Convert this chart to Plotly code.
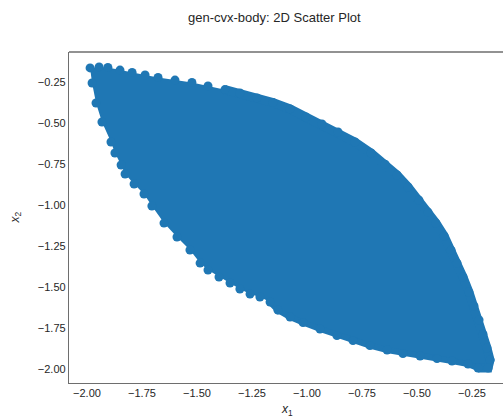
import plotly.graph_objects as go

# Boundary samples (marker centres) of the convex body
x1_edge = [-1.986, -1.945, -1.905, -1.850, -1.795, -1.736, -1.677, -1.600, -1.523, -1.450,
           -1.373, -1.305, -1.227, -1.155, -1.077, -1.005, -0.932, -0.859, -0.782, -0.709,
           -0.645, -0.591, -0.541, -0.491, -0.450, -0.414, -0.377, -0.345, -0.318, -0.291,
           -0.264, -0.241, -0.218, -0.200, -0.182, -0.168, -0.177, -0.223, -0.268, -0.341,
           -0.409, -0.486, -0.564, -0.636, -0.714, -0.791, -0.864, -0.941, -1.018, -1.077,
           -1.132, -1.168, -1.214, -1.259, -1.305, -1.350, -1.400, -1.450, -1.486, -1.532,
           -1.591, -1.650, -1.705, -1.741, -1.786, -1.827, -1.845, -1.873, -1.891, -1.932,
           -1.959, -1.977]
x2_edge = [-0.166, -0.160, -0.163, -0.179, -0.194, -0.209, -0.224, -0.240, -0.255, -0.276,
           -0.298, -0.319, -0.349, -0.377, -0.416, -0.465, -0.508, -0.557, -0.618, -0.685,
           -0.753, -0.819, -0.892, -0.972, -1.045, -1.112, -1.191, -1.277, -1.356, -1.441,
           -1.533, -1.618, -1.703, -1.789, -1.874, -1.947, -1.996, -1.996, -1.972, -1.953,
           -1.938, -1.923, -1.907, -1.886, -1.859, -1.828, -1.798, -1.758, -1.718, -1.685,
           -1.643, -1.594, -1.563, -1.545, -1.514, -1.478, -1.441, -1.398, -1.356, -1.276,
           -1.197, -1.112, -1.008, -0.935, -0.874, -0.813, -0.758, -0.685, -0.618, -0.496,
           -0.380, -0.258]

x_ticks = [-2.00, -1.75, -1.50, -1.25, -1.00, -0.75, -0.50, -0.25]
y_ticks = [-2.00, -1.75, -1.50, -1.25, -1.00, -0.75, -0.50, -0.25]

BLUE = "#1f77b4"
FONT = "Liberation Sans, Arial, sans-serif"

fig = go.Figure()
# interior
fig.add_trace(go.Scatter(
    x=x1_edge + [x1_edge[0]], y=x2_edge + [x2_edge[0]],
    mode="lines", fill="toself", fillcolor=BLUE,
    line=dict(width=0, color=BLUE), hoverinfo="skip", showlegend=False))
# densely sampled upper-right arc: smooth edge
fig.add_trace(go.Scatter(
    x=x1_edge[10:38], y=x2_edge[10:38], mode="lines",
    line=dict(width=9, color=BLUE), hoverinfo="skip", showlegend=False))
# bottom edge: mildly bumpy
fig.add_trace(go.Scatter(
    x=x1_edge[37:52], y=x2_edge[37:52], mode="lines",
    line=dict(width=6, color=BLUE), hoverinfo="skip", showlegend=False))
# points on the boundary
fig.add_trace(go.Scatter(
    x=x1_edge, y=x2_edge, mode="markers",
    marker=dict(size=9, color=BLUE, line=dict(width=0)), showlegend=False))

axis_common = dict(
    showgrid=False, zeroline=False, ticks="", automargin=False,
    tickfont=dict(family=FONT, size=11, color="#262626"),
    tickformat=".2f", showline=True, linecolor="#6e6e6e", linewidth=1.3)

fig.update_layout(
    width=503, height=416,
    margin=dict(l=69, r=0, t=52, b=33, autoexpand=False),
    paper_bgcolor="white", plot_bgcolor="white",
    xaxis=dict(range=[-2.0818, -0.1091], tickvals=x_ticks, **axis_common, mirror=False),
    yaxis=dict(range=[-2.0872, -0.0689], tickvals=y_ticks, **axis_common),
    annotations=[
        dict(text="gen-cvx-body: 2D Scatter Plot", xref="paper", yref="paper",
             x=(274 - 69) / 434, y=1 + (52 - 18) / 331, xanchor="center", yanchor="middle",
             showarrow=False, font=dict(family=FONT, size=13, color="#262626")),
        dict(text="<i>x</i><sub>1</sub>", xref="paper", yref="paper",
             x=(287 - 69) / 434, y=-(410 - 383) / 331, xanchor="center", yanchor="middle",
             showarrow=False, font=dict(family=FONT, size=12, color="#262626")),
        dict(text="<i>x</i><sub>2</sub>", xref="paper", yref="paper", textangle=-90,
             x=-(69 - 15) / 434, y=0.5, xanchor="center", yanchor="middle",
             showarrow=False, font=dict(family=FONT, size=12, color="#262626")),
    ],
    shapes=[dict(type="line", xref="paper", yref="paper", x0=0, x1=1, y0=1, y1=1,
                 line=dict(color="#6e6e6e", width=1.3))],
)

fig.write_html("out.html", config={"displayModeBar": False},
               post_script="document.body.style.margin='0';document.body.style.overflow='hidden';")
